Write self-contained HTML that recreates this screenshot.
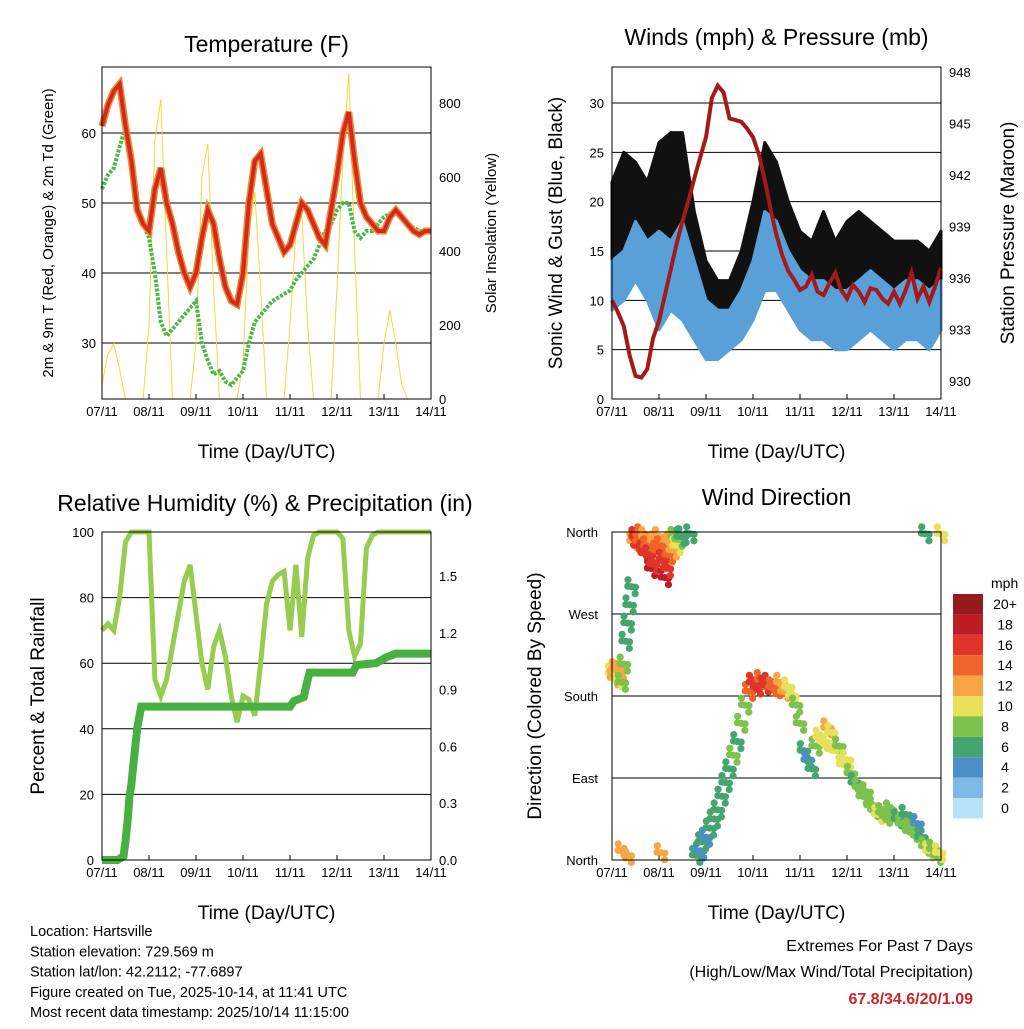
<!DOCTYPE html>
<html><head><meta charset="utf-8"><style>
body{margin:0;background:#fff;width:1024px;height:1024px;overflow:hidden;font-family:"Liberation Sans",Arial,sans-serif}
svg text{font-family:"Liberation Sans",Arial,sans-serif}
</style></head><body>
<svg id="s" width="1024" height="1024" viewBox="0 0 1024 1024" xmlns="http://www.w3.org/2000/svg"></svg>
<script>
// ---------- data ----------
const dayLabels=["07/11","08/11","09/11","10/11","11/11","12/11","13/11","14/11"];
const tempHourStep=3;
const tempF=[61,64,66,67,61,56,49,47,46,52,55,50,47,43,40,38,40,45,49,47,42,38,36,35.5,40,50,56,57,52,47,45,43,44,47,50,49,47,45,44,49,54,60,63,56,50,48,47,46,46,48,49,48,47,46,45.5,46,46];
const dewF=[52,54,55,58,61,57,50,47,45,40,33,31,32,33,34,35,36,30,27.5,25.5,26,24.5,24,25,26,30,33,34,35,36,36.5,37,37.5,39,40,41,42,44,46,47,49,50,50,46,45,46,46,47,48,48.5,48.5,48,47,46.5,46,46,46];
const solarWm2=[40,120,150,80,0,0,0,0,200,700,810,400,0,0,0,0,150,600,690,300,0,0,0,0,100,450,560,300,0,0,0,0,200,450,500,200,0,0,0,0,300,650,880,400,0,0,0,0,150,240,150,40,0,0,0,0,0];
const tempTicks=[30,40,50,60];
const solarTicks=[0,200,400,600,800];

const windHourStep=6;
const windLow=[9,10,12,10,7,9,8,6,4,4,5,6,8,11,11,9,7,6,6,5,5,6,7,6,5,6,6,5,7];
const windHigh=[14,15,18,16,17,16,18,14,10,9,9,11,14,19,18,15,13,12,12,11,11,12,13,12,11,12,12,11,12];
const gustLow=[13,15,17,15,12,15,17,10,7,5,6,8,12,16,14,12,10,9,9,8,9,10,10,10,8,9,9,8,10];
const gustHigh=[22,25,24,22,26,27,27,19,14,12,12,15,20,26,24,20,17,16,19,16,18,19,18,17,16,16,16,15,17];
const pressHourStep=3;
const pressMb=[934.7,934,933.2,931.5,930.3,930.2,930.7,932.5,933.5,935,936.5,938,939.3,940.5,941.8,943,944.2,946.5,947.2,946.8,945.3,945.2,945.1,944.7,944.2,943.2,941.7,940,938.5,937.3,936.4,935.9,935.3,935.5,936.2,935.2,935,935.7,936.3,935.3,934.8,935.6,935.2,934.6,935.4,935.3,934.8,934.5,935.2,934.5,935.3,936.3,934.8,935.5,934.6,935.5,936.6];
const windTicks=[0,5,10,15,20,25,30];
const pressTicks=[930,933,936,939,942,945,948];

const rhHourStep=3;
const rhPct=[70,72,70,80,97,100,100,100,100,55,50,55,65,75,85,90,75,60,52,65,70,62,50,42,50,49,44,60,78,85,87,88,70,90,68,92,99,100,100,100,100,98,70,62,66,95,99,100,100,100,100,100,100,100,100,100,100];
const precipHours=[0,8,11,12,13,14,15,16,17,18,20,96,98,103,105,106,128,130,140,145,150,168];
const precipIn=[0,0,0.02,0.1,0.2,0.33,0.4,0.5,0.6,0.7,0.81,0.81,0.84,0.86,0.95,0.99,0.99,1.03,1.04,1.07,1.09,1.09];
const rhTicks=[0,20,40,60,80,100];
const precipTicks=["0.0","0.3","0.6","0.9","1.2","1.5"];

const dirHours=[0,1,2,3,4,5,6,7,8,9,10,11,12,13,14,15,16,17,18,19,20,21,22,23,24,25,26,27,28,29,30,31,32,33,34,35,36,40,43,45,46,48,50,52,54,56,58,60,62,64,66,68,70,72,74,76,78,80,82,84,86,88,90,92,94,96,98,100,102,104,106,108,110,112,114,116,118,120,122,124,126,128,130,132,134,136,138,140,142,144,146,148,150,152,154,156,158,160,162,164,166,167,5,8,25,160,168];
const dirDeg=[205,200,210,198,208,195,215,240,260,280,300,350,355,345,350,358,340,355,345,335,320,325,350,340,355,345,330,310,320,335,350,340,355,345,352,355,356,358,5,10,20,25,35,45,55,70,85,100,115,130,150,170,185,195,190,198,192,195,190,188,195,185,190,180,170,150,120,110,100,125,135,130,145,140,120,125,105,110,95,85,80,70,75,60,55,50,52,48,55,50,45,40,50,35,30,40,25,15,10,12,5,8,10,5,8,358,358];
const dirSpeed=[11,12,12,10,12,9,8,7,7,6,7,13,16,17,14,15,16,12,15,17,18,17,13,14,12,15,16,18,17,15,12,13,9,10,8,7,6,7,6,5,6,5,6,6,7,7,7,7,8,7,8,9,14,16,17,15,16,17,14,15,13,12,11,10,9,8,6,5,7,8,10,11,12,11,10,9,10,11,8,7,9,8,9,8,9,10,8,9,8,9,7,8,7,9,8,5,6,8,10,9,9,10,12,13,12,6,10];
const dirTicks=["North","East","South","West","North"];
const speedLabels=["20+","18","16","14","12","10","8","6","4","2","0"];
const speedColors=["#951b1e","#bd1c24","#de3429","#f06329","#f7a545","#e8e05a","#7cc24c","#45a56e","#4a8fc7","#7ebae6","#b7e3f8"];

// ---------- helpers ----------
const NS="http://www.w3.org/2000/svg";
const svg=document.getElementById('s');
function mk(tag,attrs,parent,text){const e=document.createElementNS(NS,tag);for(const k in attrs)e.setAttribute(k,attrs[k]);if(text!==undefined)e.textContent=text;(parent||svg).appendChild(e);return e;}
function lin(d0,d1,r0,r1){return v=>r0+(v-d0)*(r1-r0)/(d1-d0);}

function panelFrame(name){
  const g=mk('g',{});
  
  
  return g;
}
function xAxis(g,x0,x1,y1,title){
  const xs=lin(0,168,x0,x1);
  dayLabels.forEach((d,i)=>{
    const x=xs(i*24);
    mk('line',{x1:x,x2:x,y1:y1,y2:y1-5,stroke:'#000','stroke-width':1},g);
    const l=mk('text',{x:x,y:y1+17,'font-size':13,'text-anchor':'middle'},g,d);
    
    
  });
  const tt=mk('text',{x:(x0+x1)/2,y:y1+59,'font-size':19,'text-anchor':'middle'},g,title);
  
  
  return xs;
}
function border(g,x0,x1,y0,y1){mk('rect',{x:x0,y:y0,width:x1-x0,height:y1-y0,fill:'none',stroke:'#000','stroke-width':1},g);}
function grid(g,x0,x1,ys){ys.forEach(y=>mk('line',{x1:x0,x2:x1,y1:y,y2:y,stroke:'#000','stroke-width':1},g));}
function ptsStr(hs,vs,xs,ys){return hs.map((h,i)=>xs(h).toFixed(1)+','+ys(vs[i]).toFixed(1)).join(' ');}
function hoursOf(arr,step){return arr.map((_,i)=>i*step);}
function title(g,x,y,txt,size){const t=mk('text',{x:x,y:y,'font-size':size,'text-anchor':'middle'},g,txt);}
function vtitle(g,x,y,txt,size,name){const t=mk('text',{x:x,y:y,'font-size':size,'text-anchor':'middle',transform:`rotate(-90 ${x} ${y})`},g,txt);}
function ylab(g,x,y,txt,anchor){const t=mk('text',{x:x,y:y+5,'font-size':13,'text-anchor':anchor},g,txt);}

// ---------- Panel 1: temperature ----------
(function(){
  const x0=102,x1=431,y0=67,y1=399;
  const g=panelFrame('temperature-panel');
  const yT=lin(30,40,343,273), yS=lin(0,800,399,103);
  grid(g,x0,x1,tempTicks.map(yT));
  const xs=xAxis(g,x0,x1,y1,'Time (Day/UTC)');
  const solar=mk('polyline',{points:ptsStr(hoursOf(solarWm2,tempHourStep),solarWm2,xs,yS),fill:'none',stroke:'#f5d83a','stroke-width':1},g);
  
  const dew=mk('polyline',{points:ptsStr(hoursOf(dewF,tempHourStep),dewF,xs,yT),fill:'none',stroke:'#4cb848','stroke-width':4,'stroke-dasharray':'3 1.5'},g);
  
  const t9=mk('polyline',{points:ptsStr(hoursOf(tempF,tempHourStep),tempF,xs,yT),fill:'none',stroke:'#f08a2a','stroke-width':7},g);
  
  const t2=mk('polyline',{points:ptsStr(hoursOf(tempF,tempHourStep),tempF,xs,yT),fill:'none',stroke:'#d22a20','stroke-width':4},g);
  
  border(g,x0,x1,y0,y1);
  tempTicks.forEach(v=>ylab(g,x0-6,yT(v),String(v),'end'));
  solarTicks.forEach(v=>ylab(g,x1+8,yS(v),String(v),'start'));
  title(g,(x0+x1)/2,52,'Temperature (F)',23);
  vtitle(g,53,233,'2m & 9m T (Red, Orange) & 2m Td (Green)',15,'y-axis-title');
  vtitle(g,496,233,'Solar Insolation (Yellow)',15,'y-axis-title-right');
})();

// ---------- Panel 2: winds & pressure ----------
(function(){
  const x0=612,x1=941,y0=67,y1=399;
  const g=panelFrame('winds-pressure-panel');
  const yW=lin(0,30,399,103), yP=lin(930,948,381,72);
  grid(g,x0,x1,windTicks.map(yW));
  const xs=xAxis(g,x0,x1,y1,'Time (Day/UTC)');
  const wh=hoursOf(windLow,windHourStep);
  function band(lo,hi,col,name){
    const p=ptsStr(wh,hi,xs,yW)+' '+ptsStr(wh.slice().reverse(),lo.slice().reverse(),xs,yW);
    const e=mk('polygon',{points:p,fill:col,stroke:col,'stroke-width':3,'stroke-linejoin':'round'},g);
    
  }
  band(gustLow,gustHigh,'#111','gust-band');
  band(windLow,windHigh,'#5aa0d8','wind-band');
  const pr=mk('polyline',{points:ptsStr(hoursOf(pressMb,pressHourStep),pressMb,xs,yP),fill:'none',stroke:'#a31a1a','stroke-width':4},g);
  
  border(g,x0,x1,y0,y1);
  windTicks.forEach(v=>ylab(g,x0-8,yW(v),String(v),'end'));
  pressTicks.forEach(v=>ylab(g,x1+8,yP(v),String(v),'start'));
  title(g,(x0+x1)/2,45,'Winds (mph) & Pressure (mb)',23);
  vtitle(g,562,233,'Sonic Wind & Gust (Blue, Black)',19,'y-axis-title');
  vtitle(g,1014,233,'Station Pressure (Maroon)',19,'y-axis-title-right');
})();

// ---------- Panel 3: RH & precip ----------
(function(){
  const x0=102,x1=431,y0=532,y1=860;
  const g=panelFrame('humidity-precip-panel');
  const yR=lin(0,100,860,532), yI=lin(0,1.5,860,576);
  grid(g,x0,x1,rhTicks.map(yR));
  const xs=xAxis(g,x0,x1,y1,'Time (Day/UTC)');
  const rh=mk('polyline',{points:ptsStr(hoursOf(rhPct,rhHourStep),rhPct,xs,yR),fill:'none',stroke:'#96cc50','stroke-width':5},g);
  
  const pc=mk('polyline',{points:ptsStr(precipHours,precipIn,xs,yI),fill:'none',stroke:'#48b040','stroke-width':8},g);
  
  border(g,x0,x1,y0,y1);
  rhTicks.forEach(v=>ylab(g,x0-8,yR(v),String(v),'end'));
  precipTicks.forEach(v=>ylab(g,x1+8,yI(parseFloat(v)),v,'start'));
  title(g,265,511,'Relative Humidity (%) & Precipitation (in)',23);
  vtitle(g,44,696,'Percent & Total Rainfall',19,'y-axis-title');
})();

// ---------- Panel 4: wind direction ----------
(function(){
  const x0=612,x1=941,y0=532,y1=860;
  const g=panelFrame('wind-direction-panel');
  const yD=lin(0,360,860,532);
  grid(g,x0,x1,dirTicks.map((_,i)=>yD(i*90)));
  const xs=xAxis(g,x0,x1,y1,'Time (Day/UTC)');
  function col(s){const idx=Math.min(10,Math.floor(s/2));return speedColors[10-idx];}
  dirHours.forEach((h,i)=>{
    for(let k=-2;k<=2;k++){
      const c=mk('circle',{cx:xs(h)+k*1.8+(k%2)*2,cy:yD(dirDeg[i])+k*3.5-(k%2)*3,r:3.6,fill:col(dirSpeed[i])},g);
      
      
    }
  });
  border(g,x0,x1,y0,y1);
  dirTicks.forEach((t,i)=>ylab(g,x0-14,yD(i*90),t,'end'));
  title(g,(x0+x1)/2,505,'Wind Direction',23);
  vtitle(g,541,696,'Direction (Colored By Speed)',19,'y-axis-title');
  const lg=mk('g',{},svg);
  
  
  mk('text',{x:991,y:588,'font-size':14},lg,'mph');
  speedColors.forEach((c,i)=>{
    const r=mk('rect',{x:953,y:594+i*20.4,width:30,height:20.4,fill:c},lg);
    
    
    mk('text',{x:1005,y:609+i*20.4,'font-size':14,'text-anchor':'middle'},lg,speedLabels[i]);
  });
})();

// ---------- footer text ----------
const info=["Location: Hartsville","Station elevation: 729.569 m","Station lat/lon: 42.2112; -77.6897","Figure created on Tue, 2025-10-14, at 11:41 UTC","Most recent data timestamp: 2025/10/14 11:15:00"];
info.forEach((t,i)=>{const e=mk('text',{x:30,y:936+i*20.3,'font-size':14.5},svg,t);});
const e1=mk('text',{x:973,y:951,'font-size':16,'text-anchor':'end'},svg,'Extremes For Past 7 Days');

const e2=mk('text',{x:973,y:977,'font-size':16,'text-anchor':'end'},svg,'(High/Low/Max Wind/Total Precipitation)');

const e3=mk('text',{x:973,y:1004,'font-size':16,'font-weight':'bold','text-anchor':'end',fill:'#c8282c'},svg,'67.8/34.6/20/1.09');

</script>
</body></html>
